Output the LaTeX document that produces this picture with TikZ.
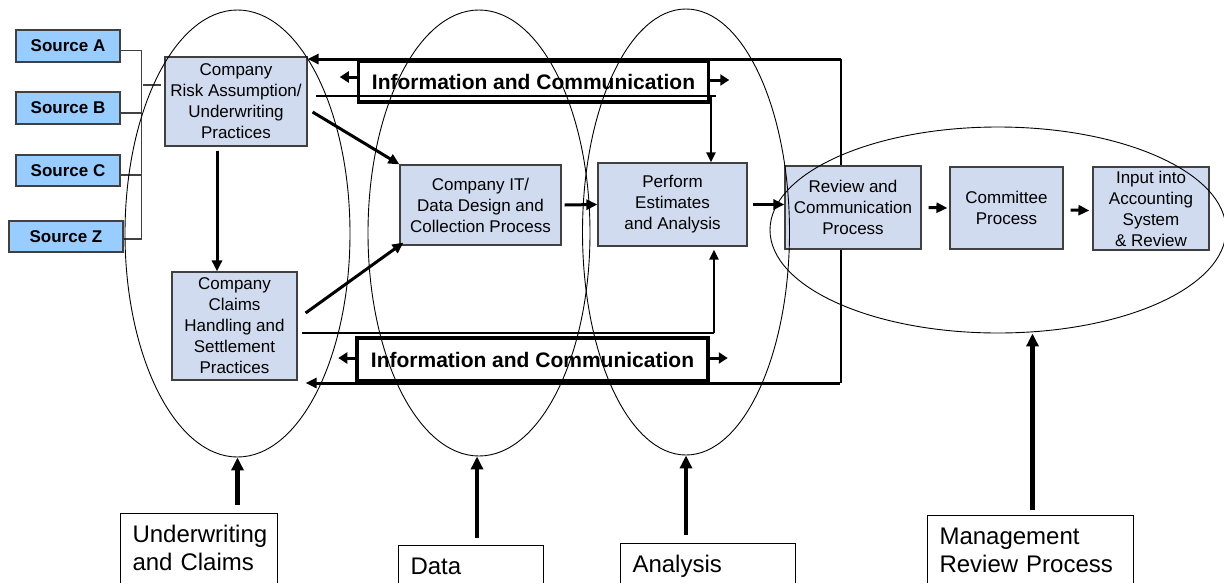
\documentclass[tikz,border=0pt]{standalone}
\usepackage{fontspec}
\setmainfont{Liberation Sans}
\usetikzlibrary{arrows.meta,shapes.geometric}
\definecolor{srcblue}{HTML}{99CCFF}
\definecolor{procblue}{HTML}{D0DBEF}
\definecolor{edgegray}{HTML}{404040}
\begin{document}
\begin{tikzpicture}[x=1pt,y=-1pt,
  src/.style={draw=edgegray, line width=1.2pt, fill=srcblue, font=\fontsize{17}{20}\selectfont\bfseries, inner sep=0pt},
  proc/.style={draw=edgegray, line width=1.2pt, fill=procblue, font=\fontsize{17}{21}\selectfont, align=center, inner sep=0pt},
  info/.style={draw=black, line width=3.5pt, fill=white, font=\fontsize{21}{24}\selectfont\bfseries, inner sep=0pt},
  lab/.style={draw=black, line width=1pt, anchor=north west, align=left, font=\fontsize{24}{28}\selectfont, inner xsep=12pt, inner ysep=12pt},
  region/.style={draw=black, line width=0.9pt, ellipse, inner sep=0pt},
  bline/.style={draw=edgegray, line width=1.1pt},
  hairline/.style={draw=black, line width=1.1pt},
  thk/.style={draw=black, line width=3pt, -{Triangle[length=11pt,width=10pt]}},
  med/.style={draw=black, line width=2.2pt, -{Triangle[length=10pt,width=9pt]}},
  big/.style={draw=black, line width=4.5pt, -{Triangle[length=13pt,width=12pt]}}
]
\useasboundingbox (0,0) rectangle (1224,582);
\clip (0,0) rectangle (1224,582);

% source boxes
\node[src, minimum width=104pt, minimum height=32pt] (srcA) at (68,46) {Source A};
\node[src, minimum width=104pt, minimum height=32pt] (srcB) at (68,108) {Source B};
\node[src, minimum width=104pt, minimum height=31pt] (srcC) at (68,170.5) {Source C};
\node[src, minimum width=114pt, minimum height=31pt] (srcZ) at (66,236.5) {Source Z};

% process boxes
\node[proc, minimum width=142pt, minimum height=89pt] (risk) at (236,101.5) {Company\\Risk Assumption/\\Underwriting\\Practices};
\node[proc, minimum width=125pt, minimum height=108pt] (claims) at (234.5,326) {Company\\Claims\\Handling and\\Settlement\\Practices};
\node[proc, minimum width=161pt, minimum height=80pt] (it) at (480.5,205) {Company IT/\\Data Design and\\Collection Process};
\node[proc, minimum width=149pt, minimum height=83pt] (perf) at (672.5,204.5) {Perform\\Estimates\\and Analysis};
\node[proc, minimum width=136pt, minimum height=83pt] (rev) at (853,207.5) {Review and\\Communication\\Process};
\node[proc, minimum width=113pt, minimum height=82pt] (comm) at (1006.5,208) {Committee\\Process};
\node[proc, minimum width=116pt, minimum height=83pt] (inp) at (1151,208.5) {Input into\\Accounting\\System\\\& Review};

% bracket from sources
\draw[bline] ([yshift=-4.5pt]srcA.east) -- ++(21,0) coordinate (bA);
\draw[bline] ([yshift=-5pt]srcB.east) -- ++(21,0);
\draw[bline] ([yshift=-4.5pt]srcC.east) -- ++(21,0);
\draw[bline] ([yshift=-2.5pt]srcZ.east) -- ++(18,0) coordinate (bZ);
\draw[bline] (bA) -- (bZ);
\draw[bline] ([xshift=-21pt,yshift=16.5pt]risk.west) -- ++(18,0);

% frame
\coordinate (ftr) at (841,59);
\coordinate (fbr) at (841,383);
\draw[thk] (ftr) -- (ftr -| risk.east);
\draw[draw=black, line width=1.6pt] (ftr) -- (ftr |- rev.north);
\draw[draw=black, line width=1.6pt] (ftr |- rev.south) -- (fbr);
\draw[thk] ([xshift=-1.5pt]fbr) -- ([xshift=8pt]fbr -| claims.east);

% info boxes
\node[info, minimum width=350pt, minimum height=41pt] (info1) at (533.5,81.5) {Information and Communication};
\node[info, minimum width=351pt, minimum height=43pt] (info2) at (532.5,359.5) {Information and Communication};
\draw[thk, -{Triangle[length=9pt,width=11pt]}] ([yshift=4.5pt]info1.west) -- ++(-17,0);
\draw[thk, -{Triangle[length=9pt,width=11pt]}] ([yshift=1.5pt]info1.east) -- ++(19,0);
\draw[thk, -{Triangle[length=9pt,width=11pt]}] ([yshift=1.5pt]info2.west) -- ++(-17,0);
\draw[thk, -{Triangle[length=9pt,width=11pt]}] ([yshift=1.5pt]info2.east) -- ++(18,0);

% thin lines and feeds to Perform
\coordinate (t1) at (316,96);
\coordinate (t2) at (716,96);
\draw[hairline] (t1) -- (t2);
\draw[med] ([xshift=-5pt]t2) -- ([xshift=38.5pt]perf.north);
\coordinate (c1) at (302,333);
\coordinate (c2) at (714,333);
\draw[hairline] (c1) -- (c2);
\draw[med] (c2) -- ([xshift=41.5pt,yshift=-3pt]perf.south);

% flow arrows
\draw[thk] ([yshift=-4pt,xshift=-19pt]risk.south) -- ([xshift=-17.5pt]claims.north);
\draw[thk] ([xshift=5pt,yshift=-10.5pt]risk.east) -- (it.north west);
\draw[thk] ([xshift=8pt,yshift=13pt]claims.east) -- ([xshift=4pt,yshift=3pt]it.south west);
\draw[thk] ([xshift=3pt]it.east) -- (perf.west);
\draw[thk] ([xshift=5pt]perf.east) -- (perf.east -| rev.west);
\draw[thk] ([xshift=7pt]rev.east) -- ([xshift=-2pt]comm.west);
\draw[thk] ([xshift=7pt,yshift=-2pt]comm.east) -- ([xshift=-3pt,yshift=-2pt]inp.west);

% regions
\node[region, minimum width=225pt, minimum height=447pt] (e1) at (237.5,233.5) {};
\node[region, minimum width=222pt, minimum height=446pt] (e2) at (479,233) {};
\node[region, minimum width=207pt, minimum height=446pt] (e3) at (686,232) {};
\node[region, minimum width=456pt, minimum height=206pt] (e4) at (998,230) {};

% labels
\node[lab, text width=133pt] (lab1) at (120,513) {Underwriting\\and Claims};
\node[lab, text width=121pt] (lab2) at (398,545) {Data};
\node[lab, text width=151pt] (lab3) at (620,543) {Analysis};
\node[lab, text width=182pt] (lab4) at (927,515) {Management\\Review Process};

\draw[big] (e1.south |- lab1.north) ++(0,-8) -- (e1.south);
\draw[big] (e2.south |- lab2.north) ++(-2,-7) -- ([xshift=-2pt]e2.south);
\draw[big] (e3.south |- lab3.north) ++(0,-8) -- (e3.south);
\draw[big] (lab4.north) ++(2,-5) -- ([xshift=2pt]lab4.north |- e4.south);
\end{tikzpicture}
\end{document}
